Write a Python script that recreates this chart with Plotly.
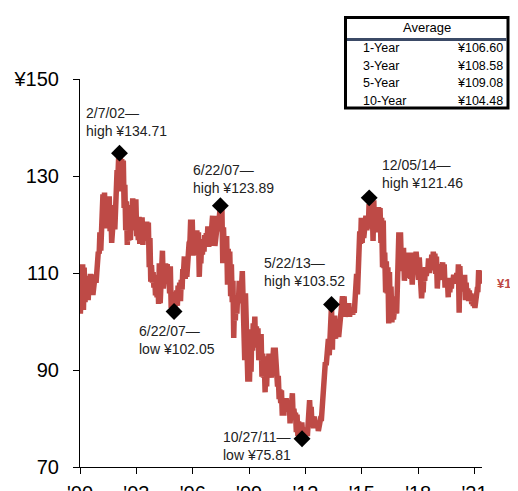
import pandas as pd
import plotly.graph_objects as go

# USD/JPY monthly high / low, Jan 2000 - May 2021 (one row per year)
month_high = [
    107.0, 111.8, 111.1, 108.4, 109.4, 107.6, 109.8, 109.4, 108.5, 109.7, 111.0, 114.4,  # 2000
    118.4, 117.6, 126.2, 126.6, 124.0, 124.6, 125.8, 124.0, 121.0, 123.0, 123.6, 131.2,  # 2001
    134.0, 134.6, 133.5, 133.2, 128.2, 124.8, 120.2, 121.0, 124.0, 125.4, 123.2, 125.2,  # 2002
    120.0, 121.6, 121.4, 121.5, 119.4, 120.2, 120.6, 120.4, 117.2, 111.6, 110.2, 109.6,  # 2003
    107.4, 109.4, 112.0, 110.3, 114.6, 110.2, 112.0, 111.8, 111.2, 111.4, 106.0, 105.4,  # 2004
    104.4, 106.4, 107.4, 108.0, 108.6, 110.8, 113.4, 112.0, 113.4, 116.2, 121.0, 121.0,  # 2005
    117.6, 118.8, 118.8, 118.4, 113.8, 116.4, 117.0, 117.8, 118.2, 119.6, 118.0, 119.0,  # 2006
    121.8, 121.8, 118.4, 119.8, 121.8, 123.8, 123.4, 119.4, 116.8, 117.6, 115.0, 114.4,  # 2007
    111.8, 108.4, 103.8, 104.8, 105.4, 108.4, 108.4, 110.4, 108.0, 105.8, 100.2, 95.8,   # 2008
    94.2, 98.4, 99.6, 101.0, 99.0, 98.6, 95.8, 97.4, 93.4, 92.0, 91.8, 92.8,             # 2009
    93.4, 91.4, 93.4, 94.6, 94.6, 91.8, 88.8, 86.0, 85.8, 83.2, 84.2, 84.2,              # 2010
    83.4, 83.6, 83.6, 85.2, 82.0, 81.2, 80.8, 79.4, 77.6, 79.2, 78.0, 78.0,              # 2011
    77.4, 81.2, 83.8, 82.4, 80.4, 80.4, 79.6, 79.4, 78.8, 80.0, 82.6, 86.4,              # 2012
    91.6, 94.2, 96.4, 99.6, 103.3, 101.2, 101.2, 99.0, 100.4, 98.8, 102.2, 105.2,        # 2013
    105.2, 102.8, 103.4, 103.8, 102.6, 102.6, 102.9, 104.2, 109.8, 112.2, 118.6, 121.4,  # 2014
    120.6, 120.2, 121.8, 120.6, 124.2, 125.3, 124.4, 125.0, 121.4, 121.2, 123.6, 123.4,  # 2015
    121.4, 120.8, 114.2, 112.4, 111.2, 110.2, 107.2, 104.0, 104.0, 105.2, 114.6, 118.4,  # 2016
    118.4, 114.6, 115.2, 112.0, 114.2, 112.6, 114.2, 110.8, 113.0, 114.2, 114.4, 113.6,  # 2017
    113.2, 110.2, 107.0, 109.6, 111.2, 110.8, 113.0, 112.0, 113.8, 114.4, 114.0, 113.4,  # 2018
    109.8, 111.4, 111.8, 112.2, 111.8, 108.6, 108.9, 109.0, 108.2, 109.0, 109.6, 109.6,  # 2019
    110.0, 111.8, 111.4, 109.2, 107.9, 109.6, 108.0, 106.8, 106.4, 105.8, 105.4, 104.4,  # 2020
    104.8, 106.6, 110.6, 110.4, 110.2,                                                   # 2021
]
month_low = [
    101.6, 106.8, 102.4, 104.0, 105.7, 104.4, 106.0, 106.2, 105.5, 107.4, 108.0, 110.2,  # 2000
    114.0, 114.6, 117.6, 121.6, 119.2, 119.4, 123.0, 118.6, 116.2, 119.8, 119.0, 123.0,  # 2001
    130.2, 132.0, 126.8, 128.0, 123.4, 118.8, 115.8, 116.6, 116.8, 121.2, 119.4, 118.8,  # 2002
    117.6, 116.8, 116.0, 118.2, 115.8, 117.0, 117.4, 116.6, 111.2, 108.2, 108.0, 107.0,  # 2003
    105.4, 105.0, 103.6, 103.8, 109.2, 106.8, 108.0, 109.0, 109.2, 105.8, 102.8, 102.2,  # 2004
    102.2, 103.8, 103.2, 104.6, 104.2, 106.6, 110.6, 108.8, 109.2, 113.4, 116.6, 116.0,  # 2005
    113.6, 115.2, 115.6, 113.8, 109.2, 112.0, 113.8, 114.4, 115.6, 116.8, 115.4, 115.6,  # 2006
    118.6, 118.2, 115.6, 117.4, 118.8, 121.4, 118.6, 112.0, 113.6, 114.0, 107.6, 110.4,  # 2007
    105.2, 104.0, 96.6, 100.2, 101.6, 103.8, 104.0, 107.4, 103.8, 92.0, 92.8, 87.6,      # 2008
    87.6, 89.6, 94.0, 96.4, 94.6, 94.8, 92.0, 93.0, 88.6, 88.4, 85.4, 86.6,              # 2009
    89.6, 88.4, 88.4, 92.4, 89.6, 88.4, 86.6, 84.0, 83.2, 80.6, 80.6, 81.4,              # 2010
    81.8, 81.8, 79.0, 81.4, 80.0, 80.0, 77.2, 76.4, 76.2, 75.9, 77.0, 77.6,              # 2011
    76.4, 76.4, 81.0, 79.8, 78.4, 78.0, 78.2, 78.2, 77.4, 78.2, 80.0, 82.0,              # 2012
    86.8, 91.0, 93.0, 93.0, 97.4, 94.2, 97.8, 96.4, 97.2, 96.8, 97.8, 101.8,             # 2013
    102.0, 101.0, 101.4, 101.6, 101.0, 101.4, 101.4, 101.8, 104.0, 105.6, 112.0, 116.0,  # 2014
    116.2, 117.2, 118.6, 118.8, 119.2, 122.2, 120.6, 116.6, 118.4, 118.4, 120.4, 120.2,  # 2015
    116.2, 111.2, 111.0, 106.0, 105.8, 99.6, 101.0, 99.8, 100.4, 101.4, 101.6, 113.2,    # 2016
    111.8, 111.8, 110.4, 108.4, 110.4, 109.0, 110.8, 108.8, 107.6, 111.8, 111.0, 112.0,  # 2017
    108.6, 105.8, 104.8, 106.0, 108.4, 109.4, 110.6, 110.0, 110.6, 111.6, 112.4, 109.8,  # 2018
    106.8, 108.6, 109.9, 110.9, 108.6, 107.0, 107.4, 105.0, 106.0, 106.8, 108.4, 108.6,  # 2019
    107.8, 107.8, 101.8, 106.6, 106.2, 106.4, 104.4, 104.4, 104.2, 104.2, 103.6, 103.2,  # 2020
    102.8, 104.4, 106.6, 107.8, 108.6,                                                   # 2021
]

peak_dates = ['2002-02-07', '2005-01-03', '2007-06-22', '2011-10-27', '2013-05-22', '2015-05-25']
peak_values = [134.71, 102.05, 123.89, 75.81, 103.52, 125.5]
peak_labels = ['2/7/02—<br>high ¥134.71', '6/22/07—<br>low ¥102.05', '6/22/07—<br>high ¥123.89',
               '10/27/11—<br>low ¥75.81', '5/22/13—<br>high ¥103.52', '12/05/14—<br>high ¥121.46']
label_shift = [(-36, 31), (-37, -28), (-29, 27), (-81, -7), (-70, 32), (11, 24)]

avg_periods = ['1-Year', '3-Year', '5-Year', '10-Year']
avg_values = ['¥106.60', '¥108.58', '¥109.08', '¥104.48']

tick_dates = ['2000-01-01', '2003-01-01', '2006-01-01', '2009-01-01',
              '2012-01-01', '2015-01-01', '2018-01-01', '2021-01-01']
tick_text = ["'00", "'03", "'06", "'09", "'12", "'15", "'18", "'21"]

RED = 'rgb(190, 74, 70)'
FONT = 'Liberation Sans'

# page has an 8px body margin and nothing shows past x=510 on screen
W, H, OFF = 502, 483, 8
# plot area in screen pixels
L, R, T, B = 80, 482, 79, 467


def px_x(px):
    return (px - L) / (R - L)


def px_y(py):
    return (B - py) / (B - T)


months = pd.date_range('2000-01-01', periods=len(month_high), freq='MS')
x, y = [], []
for m, lo, hi in zip(months, month_low, month_high):
    x += [m + pd.Timedelta(days=7), m + pd.Timedelta(days=21)]
    y += [lo, hi]

fig = go.Figure()
fig.add_trace(go.Scatter(x=x, y=y, mode='lines',
                         line=dict(color=RED, width=5.5), hoverinfo='skip'))
fig.add_trace(go.Scatter(x=pd.to_datetime(peak_dates), y=peak_values, mode='markers',
                         marker=dict(symbol='diamond', size=13, color='black'),
                         cliponaxis=False))

annotations = []
for d, v, txt, (dx, dy) in zip(peak_dates, peak_values, peak_labels, label_shift):
    annotations.append(dict(x=d, y=v, xref='x', yref='y', text=txt, showarrow=False,
                            xanchor='left', yanchor='middle', align='left',
                            xshift=dx, yshift=dy,
                            font=dict(family=FONT, size=14, color='#222')))

# average table
box_l, box_r = 345.5, 508
annotations.append(dict(x=px_x((box_l + box_r) / 2), y=px_y(27.5), xref='paper', yref='paper',
                        text='Average', showarrow=False, xanchor='center', yanchor='middle',
                        font=dict(family=FONT, size=13, color='black')))
for i, (p, v) in enumerate(zip(avg_periods, avg_values)):
    row_y = px_y(48 + i * 17.7)
    annotations.append(dict(x=px_x(box_l + 15), y=row_y, xref='paper', yref='paper', text=p,
                            showarrow=False, xanchor='left', yanchor='middle',
                            font=dict(family=FONT, size=12.5, color='black')))
    annotations.append(dict(x=px_x(box_r - 2.5), y=row_y, xref='paper', yref='paper', text=v,
                            showarrow=False, xanchor='right', yanchor='middle',
                            font=dict(family=FONT, size=12.5, color='black')))

# last value label (cut off at the edge)
annotations.append(dict(x=px_x(495), y=px_y(283), xref='paper', yref='paper', text='<b>¥108.86</b>',
                        showarrow=False, xanchor='left', yanchor='middle',
                        font=dict(family=FONT, size=13, color=RED)))

shapes = [
    dict(type='rect', xref='paper', yref='paper', x0=px_x(box_l), x1=px_x(box_r),
         y0=px_y(108), y1=px_y(17.5), line=dict(color='black', width=3), fillcolor='white',
         layer='below'),
    dict(type='line', xref='paper', yref='paper', x0=px_x(box_l + 1.5), x1=px_x(box_r - 1.5),
         y0=px_y(39.5), y1=px_y(39.5), line=dict(color='#3b4a66', width=3)),
]

fig.update_layout(
    width=W, height=H,
    margin=dict(l=L - OFF, r=W - (R - OFF), t=T - OFF, b=H - (B - OFF)),
    paper_bgcolor='white', plot_bgcolor='white',
    showlegend=False,
    annotations=annotations,
    shapes=shapes,
    font=dict(family=FONT, color='black'),
)
fig.update_xaxes(type='date', range=['2000-01-01', '2021-05-26'], automargin=False,
                 tickvals=tick_dates, ticktext=tick_text,
                 showgrid=False, zeroline=False, showline=True, linecolor='black', linewidth=1,
                 ticks='outside', ticklen=6, tickcolor='black', ticklabelstandoff=2,
                 tickfont=dict(family=FONT, size=20, color='black'))
fig.update_yaxes(range=[70, 150], automargin=False, tickvals=[70, 90, 110, 130, 150],
                 ticktext=['70', '90', '110', '130', '¥150'],
                 showgrid=False, zeroline=False, showline=True, linecolor='black', linewidth=1,
                 ticks='outside', ticklen=6, tickcolor='black', ticklabelstandoff=10,
                 tickfont=dict(family=FONT, size=20, color='black'))

fig.write_html("out.html")
